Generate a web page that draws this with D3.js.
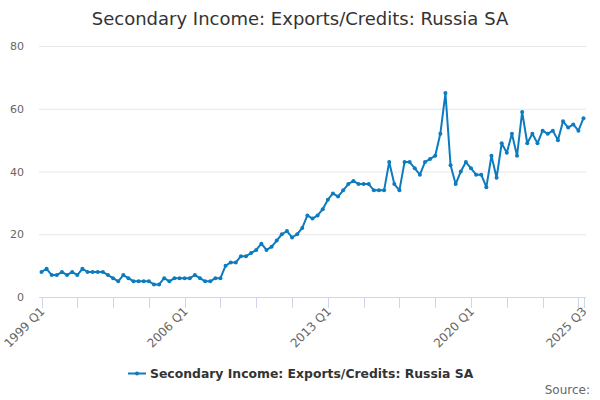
<!DOCTYPE html>
<html><head><meta charset="utf-8">
<script src="https://cdn.jsdelivr.net/npm/d3@7"></script>
<style>body{margin:0;background:#fff;}svg{font-family:"DejaVu Sans",Verdana,sans-serif;}</style>
</head><body><div id="chart"></div>
<script>
const title = "Secondary Income: Exports/Credits: Russia SA";
const seriesName = "Secondary Income: Exports/Credits: Russia SA";
const startYear = 1999;
const values = [
 8,9,7,7, 8,7,8,7, 9,8,8,8, 8,7,6,5, 7,6,5,5, 5,5,4,4, 6,5,6,6,
 6,6,7,6, 5,5,6,6, 10,11,11,13, 13,14,15,17, 15,16,18,20, 21,19,20,22, 26,25,26,28,
 31,33,32,34, 36,37,36,36, 36,34,34,34, 43,36,34,43, 43,41,39,43, 44,45,52,65,
 42,36,40,43, 41,39,39,35, 45,38,49,46, 52,45,59,49, 52,49,53,52, 53,50,56,54, 55,53,57
];
const yTicks = [0,20,40,60,80];
const labelIdx = [0,28,56,84,106];

const W=600,H=400;
const svg=d3.select("#chart").append("svg").attr("width",W).attr("height",H);
const labels = values.map((v,i)=> (startYear+Math.floor(i/4))+" Q"+(i%4+1));
const x=d3.scaleLinear().domain([0,values.length-1]).range([41.5,583.5]);
const y=d3.scaleLinear().domain([0,80]).range([297,46]);

svg.append("text").attr("x",300).attr("y",25).attr("text-anchor","middle")
 .attr("font-size",18).attr("fill","#333").text(title);

// grid
svg.append("g").selectAll("line").data(yTicks.filter(d=>d>0)).join("line")
 .attr("x1",39).attr("x2",586).attr("y1",d=>y(d)+0.5).attr("y2",d=>y(d)+0.5)
 .attr("stroke","#e6e6e6");
svg.append("g").selectAll("text").data(yTicks).join("text")
 .attr("x",24).attr("y",d=>y(d)+4).attr("text-anchor","end")
 .attr("font-size",11).attr("fill","#666").text(d=>d);

// x axis
svg.append("line").attr("x1",39).attr("x2",586).attr("y1",297.5).attr("y2",297.5).attr("stroke","#ccd6eb");
const tickIdx = d3.range(0,values.length-1,7).concat([values.length-1]);
svg.append("g").selectAll("line").data(tickIdx).join("line")
 .attr("x1",d=>Math.round(x(d))+0.5).attr("x2",d=>Math.round(x(d))+0.5)
 .attr("y1",297).attr("y2",308).attr("stroke","#ccd6eb");
svg.append("g").selectAll("text").data(labelIdx).join("text")
 .attr("transform",d=>`translate(${x(d)+4},${312}) rotate(-45)`)
 .attr("text-anchor","end").attr("font-size",12).attr("fill","#666")
 .text(d=>labels[d]);

const color="#0c7bbf";
const line=d3.line().x((d,i)=>x(i)).y(d=>y(d));
svg.append("path").datum(values).attr("d",line).attr("fill","none")
 .attr("stroke",color).attr("stroke-width",2).attr("stroke-linejoin","round");
svg.append("g").selectAll("circle").data(values).join("circle")
 .attr("cx",(d,i)=>x(i)).attr("cy",d=>y(d)).attr("r",2).attr("fill",color);

// legend
const lg=svg.append("g");
lg.append("line").attr("x1",128).attr("x2",146).attr("y1",373.5).attr("y2",373.5).attr("stroke",color).attr("stroke-width",2);
lg.append("circle").attr("cx",137).attr("cy",373.5).attr("r",2).attr("fill",color);
lg.append("text").attr("x",150).attr("y",378).attr("font-size",12.4).attr("font-weight","bold").attr("fill","#333").text(seriesName);

svg.append("text").attr("x",590).attr("y",394).attr("text-anchor","end").attr("font-size",12).attr("fill","#666").text("Source:");
</script></body></html>
